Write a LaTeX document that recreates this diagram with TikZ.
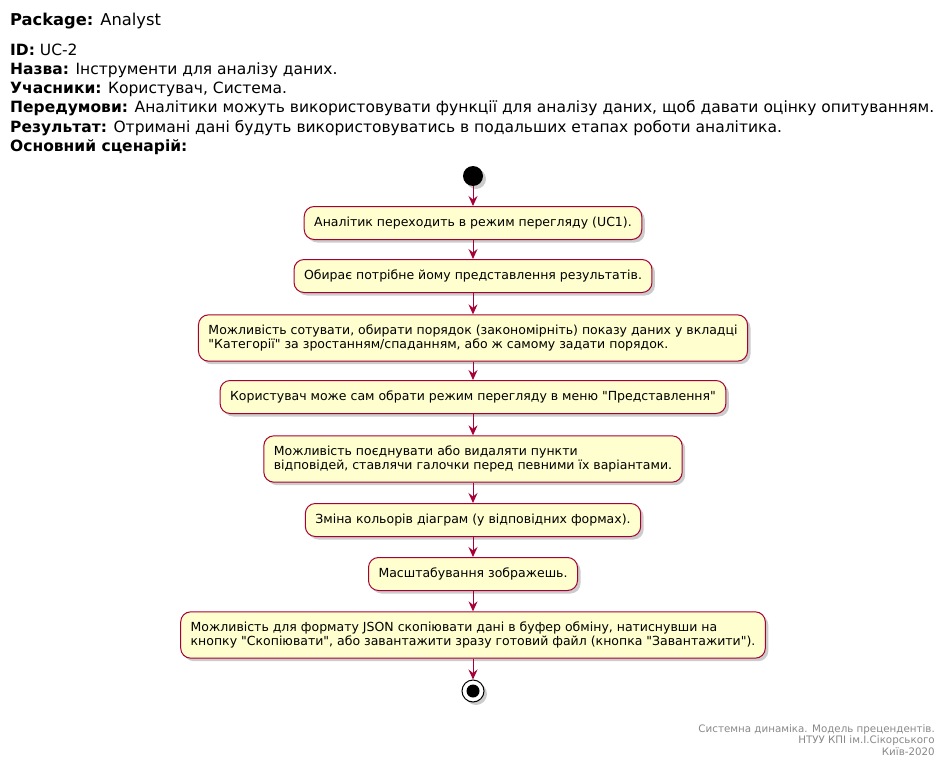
\documentclass[tikz,border=0pt]{standalone}
\usepackage{fontspec}
\setmainfont{DejaVu Sans}[Ligatures=TeXOff]
\usetikzlibrary{arrows.meta,shadows}

\definecolor{umlred}{HTML}{A80036}
\definecolor{umlfill}{HTML}{FEFECE}
\definecolor{footgray}{HTML}{888888}

\tikzset{
  act/.style={draw=umlred, fill=umlfill, line width=1pt, rounded corners=10pt,
    inner xsep=10pt, inner ysep=10pt, minimum height=33pt, align=left,
    font=\fontsize{12.5}{14}\selectfont,
    drop shadow={shadow xshift=3pt, shadow yshift=-3pt, fill=black!40, opacity=.5}},
  flow/.style={draw=umlred, line width=1pt, -{Stealth[length=10pt,width=9pt,inset=3.5pt]}},
  hdrline/.style={anchor=base west, inner sep=0pt, font=\fontsize{15.5}{18}\selectfont},
}

\begin{document}
\begin{tikzpicture}[x=1pt,y=-1pt]
            \useasboundingbox (0,0) rectangle (946,768);

            % Header
            \node[hdrline, font=\fontsize{16.3}{20}\selectfont] (pkg) at (10,26) {\textbf{Package:} Analyst};
            \node[hdrline] (ucid) at (10,56) {\textbf{ID:} UC-2};
            \node[hdrline] (ucname) at (10,75) {\textbf{Назва:} Інструменти для аналізу даних.};
            \node[hdrline] (actors) at (10,94) {\textbf{Учасники:} Користувач, Система.};
            \node[hdrline] (precond) at (10,113) {\textbf{Передумови:} Аналітики можуть використовувати функції для аналізу даних, щоб давати оцінку опитуванням.};
            \node[hdrline] (result) at (10,132) {\textbf{Результат:} Отримані дані будуть використовуватись в подальших етапах роботи аналітика.};
            \node[hdrline] (scen) at (10,151) {\textbf{Основний сценарій:}};

            % Start
            \node[circle, fill=black, minimum size=20pt, inner sep=0pt,
              drop shadow={shadow xshift=3pt, shadow yshift=-3pt, fill=black!40, opacity=.5}] (start) at (473,176) {};

            % Activities
            \node[act] (a1) at (473,223) {Аналітик переходить в режим перегляду (UC1).};
            \node[act] (a2) at (473,276) {Обирає потрібне йому представлення результатів.};
            \node[act] (a3) at (473,338) {Можливість сотувати, обирати порядок (закономірніть) показу даних у вкладці\\"Категорії" за зростанням/спаданням, або ж самому задати порядок.};
            \node[act] (a4) at (473,397) {Користувач може сам обрати режим перегляду в меню "Представлення"};
            \node[act] (a5) at (473,459) {Можливість поєднувати або видаляти пункти\\відповідей, ставлячи галочки перед певними їх варіантами.};
            \node[act] (a6) at (473,520) {Зміна кольорів діаграм (у відповідних формах).};
            \node[act] (a7) at (473,574) {Масштабування зображешь.};
            \node[act] (a8) at (473,635) {Можливість для формату JSON скопіювати дані в буфер обміну, натиснувши на\\кнопку "Скопіювати", або завантажити зразу готовий файл (кнопка "Завантажити").};

            % Stop
            \node[circle, draw=black, fill=white, line width=1pt, minimum size=22pt, inner sep=0pt,
              drop shadow={shadow xshift=3pt, shadow yshift=-3pt, fill=black!40, opacity=.5}] (stop) at (473,691) {};
            \fill (stop.center) circle (6.5pt);

            % Flow
            \draw[flow] (start) -- (a1);
            \foreach \from/\to in {a1/a2,a2/a3,a3/a4,a4/a5,a5/a6,a6/a7,a7/a8,a8/stop}
                \draw[flow] (\from) -- (\to);

            % Footer
            \node[anchor=north east, inner sep=0pt, align=right, text=footgray,
              font=\fontsize{10.3}{11.5}\selectfont] (foot) at (935,724)
              {Системна динаміка. Модель прецендентів.\\НТУУ КПІ ім.І.Сікорського\\Київ-2020};
        \end{tikzpicture}
\end{document}
